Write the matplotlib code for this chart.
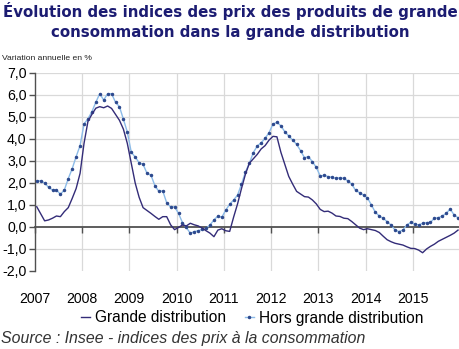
import matplotlib
matplotlib.use("Agg")
import matplotlib.pyplot as plt
from matplotlib.lines import Line2D
import numpy as np

# Monthly data, Jan 2007 .. Dec 2015
years = [2007, 2008, 2009, 2010, 2011, 2012, 2013, 2014, 2015]
year_labels = [str(y) for y in years]

grande_distribution = [
    # 2007
    0.92, 0.6, 0.28, 0.32, 0.4, 0.5, 0.47, 0.7, 0.88, 1.3, 1.75, 2.44,
    # 2008
    3.8, 4.8, 5.12, 5.4, 5.47, 5.42, 5.5, 5.39, 5.12, 4.85, 4.45, 3.8,
    # 2009
    2.9, 2.0, 1.35, 0.88, 0.75, 0.62, 0.48, 0.35, 0.47, 0.47, 0.1, -0.12,
    # 2010
    -0.02, 0.09, 0.05, 0.17, 0.1, 0.05, -0.05, -0.17, -0.28, -0.44, -0.14, -0.08,
    # 2011
    -0.17, -0.2, 0.45, 1.05, 1.75, 2.4, 2.9, 3.1, 3.3, 3.55, 3.7, 3.95,
    # 2012
    4.12, 4.1, 3.4, 2.85, 2.3, 1.95, 1.62, 1.5, 1.38, 1.36, 1.23, 1.05,
    # 2013
    0.8, 0.7, 0.72, 0.63, 0.5, 0.48, 0.4, 0.38, 0.25, 0.1, -0.05, -0.12,
    # 2014
    -0.08, -0.12, -0.16, -0.25, -0.42, -0.58, -0.67, -0.74, -0.78, -0.82, -0.9, -0.97,
    # 2015
    -0.98, -1.05, -1.17, -1.0, -0.88, -0.78, -0.65, -0.56, -0.47, -0.38, -0.28, -0.14,
]

hors_grande_distribution = [
    # 2007
    2.1, 2.1, 2.0, 1.8, 1.68, 1.68, 1.49, 1.68, 2.2, 2.65, 3.2, 3.7,
    # 2008
    4.68, 4.92, 5.24, 5.67, 6.06, 5.77, 6.06, 6.06, 5.67, 5.47, 4.9, 4.32,
    # 2009
    3.4, 3.18, 2.92, 2.85, 2.44, 2.36, 1.88, 1.62, 1.64, 1.1, 0.91, 0.92,
    # 2010
    0.62, 0.2, -0.02, -0.29, -0.21, -0.17, -0.11, -0.06, 0.09, 0.32, 0.5, 0.44,
    # 2011
    0.77, 1.03, 1.23, 1.45, 1.95, 2.5, 2.9, 3.38, 3.68, 3.83, 4.03, 4.29,
    # 2012
    4.68, 4.76, 4.6, 4.33, 4.14, 3.95, 3.76, 3.47, 3.15, 3.2, 2.97, 2.71,
    # 2013
    2.32, 2.35, 2.29, 2.26, 2.21, 2.24, 2.21, 2.1, 1.95, 1.66, 1.56, 1.45,
    # 2014
    1.32, 1.0, 0.67, 0.5, 0.4, 0.24, 0.09, -0.14, -0.21, -0.14, 0.09, 0.21,
    # 2015
    0.14, 0.09, 0.17, 0.2, 0.21, 0.4, 0.42, 0.5, 0.62, 0.82, 0.55, 0.42,
]

y_ticks = [-2, -1, 0, 1, 2, 3, 4, 5, 6, 7]

n = len(grande_distribution)
x = 2007 + (np.arange(n) + 0.5) / 12.0

fig = plt.figure(figsize=(4.6, 3.49), dpi=100)
ax = fig.add_axes([34.8 / 460, 1 - 271 / 349, 1 - 34.8 / 460, (271 - 73) / 349])

ax.set_xlim(2007, 2016)
ax.set_ylim(-2, 7)

# grid
for y in y_ticks:
    if y not in (0, -2):
        ax.axhline(y, color="#d9d9d9", lw=0.9, zorder=0)
for yr in years[1:] + [2016]:
    ax.axvline(yr, color="#d9d9d9", lw=0.9, zorder=0)

ax.plot(x, hors_grande_distribution, color="#8cbbe8", lw=1.0, zorder=3,
        marker="o", ms=1.5, mfc="#2e4a8e", mec="#2e4a8e")
ax.plot(x, grande_distribution, color="#332c78", lw=1.0, zorder=4)

for s in ("top", "right"):
    ax.spines[s].set_visible(False)
ax.spines["bottom"].set_position(("data", 0))
ax.spines["bottom"].set_color("#505050")
ax.spines["bottom"].set_linewidth(1.3)
ax.spines["left"].set_color("#505050")
ax.spines["left"].set_linewidth(1.0)

ax.set_yticks(y_ticks)
ax.set_yticklabels([f"{v:.1f}".replace(".", ",") for v in y_ticks],
                   fontfamily="Liberation Sans", fontsize=10.2)
ax.set_xticks(years)
ax.set_xticklabels(year_labels, fontfamily="Liberation Sans", fontsize=10.2)
ax.tick_params(axis="y", length=4, width=1.0, color="#505050", pad=2)
ax.tick_params(axis="x", length=4, width=1.0, color="#505050", pad=43)

fig.text(0.5, 1 - 10.5 / 349, "Évolution des indices des prix des produits de grande",
         ha="center", va="center", fontsize=10.8, fontweight="bold",
         color="#1c1c72", fontfamily="DejaVu Sans")
fig.text(0.5, 1 - 32.5 / 349, "consommation dans la grande distribution",
         ha="center", va="center", fontsize=10.8, fontweight="bold",
         color="#1c1c72", fontfamily="DejaVu Sans")

fig.text(2 / 460, 1 - 59 / 349, "Variation annuelle en %", ha="left", va="center",
         fontsize=6.1, fontfamily="Liberation Sans", color="#222222")

handles = [
    Line2D([], [], color="#332c78", lw=1.0),
    Line2D([], [], color="#8cbbe8", lw=1.0, marker="o", ms=1.5,
           mfc="#2e4a8e", mec="#2e4a8e"),
]
fig.legend(handles, ["Grande distribution", "Hors grande distribution"],
           loc="center", bbox_to_anchor=(252 / 460, 1 - 318 / 349), ncol=2,
           frameon=False, handlelength=0.6, handletextpad=0.3, columnspacing=1.2,
           prop={"family": "Liberation Sans", "size": 11.2})

fig.text(1 / 460, 1 - 338 / 349, "Source : Insee - indices des prix à la consommation",
         ha="left", va="center", fontsize=11.4, fontstyle="italic",
         fontfamily="Liberation Sans", color="#333333")

fig.savefig("out.png", dpi=100)
